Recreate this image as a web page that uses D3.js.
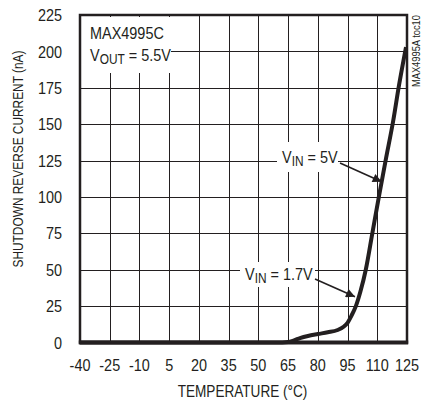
<!DOCTYPE html>
<html><head><meta charset="utf-8">
<script src="https://cdn.jsdelivr.net/npm/d3@7"></script>
<style>
html,body{margin:0;padding:0;background:#fff;}
svg text{font-family:'Liberation Sans Narrow','Arial Narrow','Liberation Sans',Arial,sans-serif;fill:#231f20;}
</style></head>
<body><svg id="c" width="421" height="405"></svg>
<script>
// Data
const xTicks = [-40,-25,-10,5,20,35,50,65,80,95,110,125];
const yTicks = [0,25,50,75,100,125,150,175,200,225];
const temps   = [-40,-25,-10,5,20,35,50,62,65,68,71,75,80,85,90,93,95,97,99.2,101.5,104.2,107.5,110.8,114.2,118,121,124.5];
const current = [0,0,0,0,0,0,0,0,0.3,1.5,3,4.5,5.8,7,8.6,10.8,13.5,18.5,25,35,50,75,100,125,152,177,203];

const svg = d3.select('#c');
const x = d3.scaleLinear().domain([-40,125]).range([80,407]);
const y = d3.scaleLinear().domain([0,225]).range([342.5,15]);
const ink = '#231f20';
const SX = 0.85;

function tx(sel, fx, fy, rot, sx){
  return sel.attr('transform', (d,i)=>`translate(${typeof fx==='function'?fx(d,i):fx},${typeof fy==='function'?fy(d,i):fy})${rot?` rotate(${rot})`:''} scale(${sx||SX},1)`);
}

// grid
const g = svg.append('g');
g.selectAll('.vx').data(xTicks.slice(1,-1)).enter().append('line')
  .attr('x1',d=>Math.round(x(d))+0.5).attr('x2',d=>Math.round(x(d))+0.5)
  .attr('y1',y(225)).attr('y2',y(0)).attr('stroke',ink).attr('stroke-width',1);
g.selectAll('.hy').data(yTicks.slice(1,-1)).enter().append('line')
  .attr('y1',d=>Math.round(y(d))+0.5).attr('y2',d=>Math.round(y(d))+0.5)
  .attr('x1',x(-40)).attr('x2',x(125)).attr('stroke',ink).attr('stroke-width',1);

// white label boxes
const boxes = [[81,17,90,56],[277,142,61,30],[240,262,75,25]];
svg.selectAll('.bx').data(boxes).enter().append('rect')
  .attr('x',d=>d[0]).attr('y',d=>d[1]).attr('width',d=>d[2]).attr('height',d=>d[3]).attr('fill','#fff');

// frame
svg.append('rect').attr('x',x(-40)).attr('y',y(225)).attr('width',x(125)-x(-40)).attr('height',y(0)-y(225))
  .attr('fill','none').attr('stroke',ink).attr('stroke-width',2.5);
svg.append('line').attr('x1',x(-40)-1.2).attr('x2',x(125)+1.2).attr('y1',y(0)).attr('y2',y(0))
  .attr('stroke',ink).attr('stroke-width',4);

// curve
const line = d3.line().x(d=>x(d[0])).y(d=>y(d[1])).curve(d3.curveMonotoneX);
svg.append('path').datum(temps.map((t,i)=>[t,current[i]])).attr('d',line)
  .attr('fill','none').attr('stroke',ink).attr('stroke-width',4).attr('stroke-linejoin','round');

// axis labels
tx(svg.selectAll('.yl').data(yTicks).enter().append('text')
  .attr('dy','0.36em').attr('text-anchor','end').attr('font-size',17).text(d=>d), 62, d=>y(d));
tx(svg.selectAll('.xl').data(xTicks).enter().append('text')
  .attr('text-anchor','middle').attr('font-size',17).text(d=>d), d=>x(d), 371);
tx(svg.append('text').attr('text-anchor','middle').attr('font-size',16).text('TEMPERATURE (°C)'), 242.5, 397);
tx(svg.append('text').attr('text-anchor','middle').attr('font-size',14.5).text('SHUTDOWN REVERSE CURRENT (nA)'), 23, 159, -90, 0.82);
tx(svg.append('text').attr('text-anchor','end').attr('font-size',11).text('MAX4995A toc10'), 420, 15, -90);

// annotations
tx(svg.append('text').attr('font-size',17).text('MAX4995C'), 90, 39);
function sub(xp,yp,main,s,rest){
  const t = svg.append('text').attr('font-size',17);
  t.append('tspan').text(main);
  t.append('tspan').attr('dy',3).attr('font-size',14).text(s);
  t.append('tspan').attr('dy',-3).text(rest);
  tx(t, xp, yp);
}
sub(90,61,'V','OUT',' = 5.5V');
sub(282,163,'V','IN',' = 5V');
sub(245,280,'V','IN',' = 1.7V');

// arrows
svg.append('defs').append('marker').attr('id','ah').attr('viewBox','0 0 10 10')
  .attr('refX',10).attr('refY',5).attr('markerWidth',15).attr('markerHeight',9)
  .attr('markerUnits','userSpaceOnUse').attr('orient','auto')
  .append('path').attr('d','M0,0 L10,5 L0,10 Z').attr('fill',ink);
const arrows = [[340,163,381.7,181.7],[315,279,355,296.7]];
svg.selectAll('.ar').data(arrows).enter().append('line')
  .attr('x1',d=>d[0]).attr('y1',d=>d[1]).attr('x2',d=>d[2]).attr('y2',d=>d[3])
  .attr('stroke',ink).attr('stroke-width',1.6).attr('marker-end','url(#ah)');
</script></body></html>
